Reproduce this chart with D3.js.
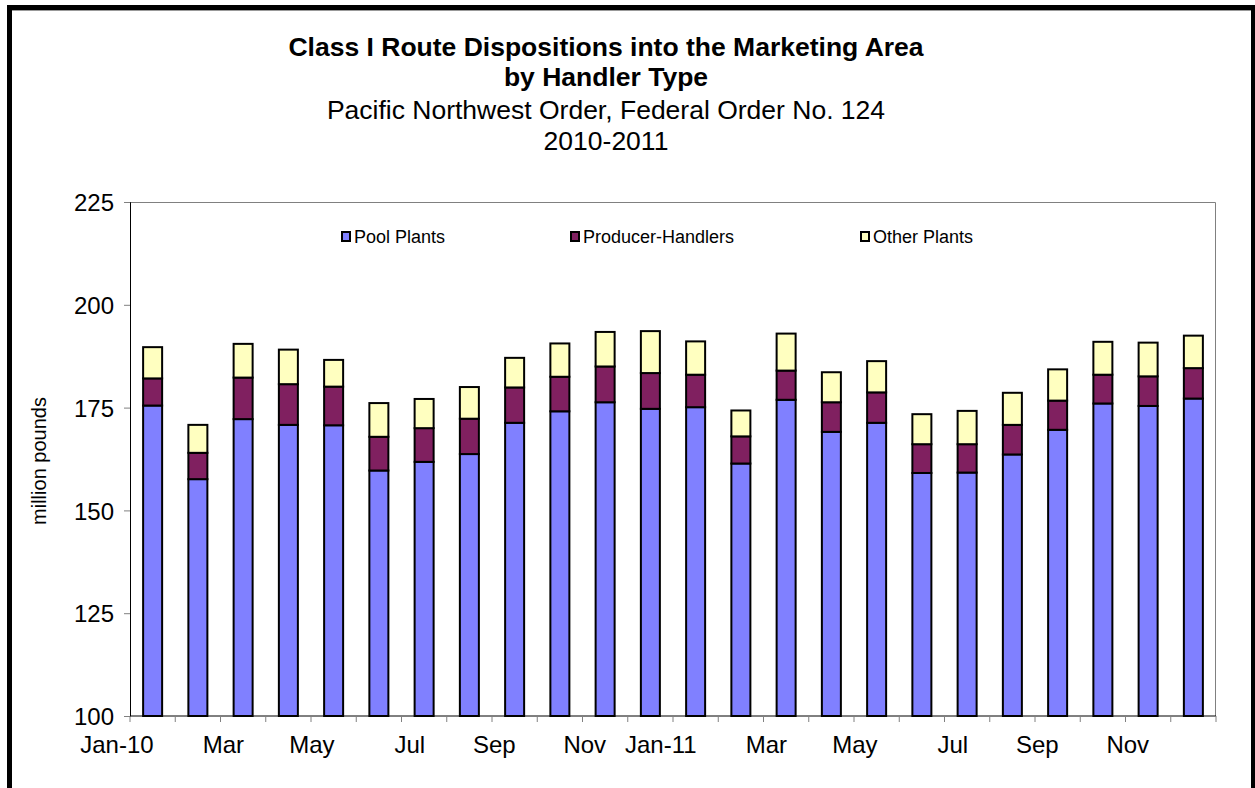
<!DOCTYPE html>
<html>
<head>
<meta charset="utf-8">
<script src="https://cdn.jsdelivr.net/npm/d3@7"></script>
<style>
  body { margin: 0; background: #fff; }
  text { font-family: "Liberation Sans", Arial, sans-serif; fill: #000; }
</style>
</head>
<body>
<script>
// month labels for the 24 bars
var months = ["Jan-10","Feb-10","Mar-10","Apr-10","May-10","Jun-10","Jul-10","Aug-10","Sep-10","Oct-10","Nov-10","Dec-10",
              "Jan-11","Feb-11","Mar-11","Apr-11","May-11","Jun-11","Jul-11","Aug-11","Sep-11","Oct-11","Nov-11","Dec-11"];
var tickLabels = ["Jan-10","Mar","May","Jul","Sep","Nov","Jan-11","Mar","May","Jul","Sep","Nov"];

// million pounds
var poolPlants = [175.5,157.6,172.2,170.8,170.7,159.7,161.8,163.7,171.3,174.1,176.3,174.7,
                  175.1,161.4,176.9,169.1,171.3,159.1,159.2,163.6,169.6,176.0,175.4,177.2];
var producerHandlers = [6.6,6.4,10.1,9.9,9.4,8.2,8.2,8.6,8.6,8.4,8.7,8.7,
                        7.9,6.6,7.1,7.2,7.4,7.0,6.9,7.2,7.1,7.0,7.2,7.4];
var otherPlants = [7.6,6.8,8.2,8.4,6.5,8.2,7.1,7.7,7.2,8.1,8.4,10.2,
                   8.1,6.3,9.0,7.3,7.6,7.3,8.1,7.8,7.6,8.0,8.2,7.9];

var seriesNames = ["Pool Plants","Producer-Handlers","Other Plants"];
var seriesKeys = ["pool","producer","other"];
var colors = ["#8080ff","#802060","#ffffc0"];
var yTicks = [100,125,150,175,200,225];

var W = 1255, H = 788;
var margin = {top: 202, right: W - 1216, bottom: H - 716, left: 130},
    width = W - margin.left - margin.right,
    height = H - margin.top - margin.bottom;

var rows = months.map(function(m, i) {
  return {month: m, pool: poolPlants[i], producer: producerHandlers[i], other: otherPlants[i]};
});

var svg = d3.select("body").append("svg")
    .attr("width", W)
    .attr("height", H);

// outer frame (bottom edge runs off the page)
svg.append("rect")
    .attr("x", 9.5).attr("y", 7.5)
    .attr("width", 1244).attr("height", 820)
    .attr("fill", "none")
    .attr("stroke", "#000")
    .attr("stroke-width", 5);
svg.append("path")
    .attr("d", "M12,10.5H1251")
    .attr("stroke", "#999")
    .attr("stroke-width", 1);

// titles
var titles = [
  {t: "Class I Route Dispositions into the Marketing Area", y: 56, bold: true},
  {t: "by Handler Type", y: 86, bold: true},
  {t: "Pacific Northwest Order, Federal Order No. 124", y: 119, bold: false},
  {t: "2010-2011", y: 150, bold: false}
];
svg.selectAll("text.title")
    .data(titles)
    .enter().append("text")
    .attr("class", "title")
    .attr("x", 606)
    .attr("y", function(d) { return d.y; })
    .attr("text-anchor", "middle")
    .style("font-size", "26.5px")
    .style("font-weight", function(d) { return d.bold ? "bold" : "normal"; })
    .text(function(d) { return d.t; });

var x = d3.scaleBand()
    .domain(months)
    .range([0, width])
    .paddingInner(0.58)
    .paddingOuter(0.29);

var y = d3.scaleLinear()
    .domain([100, 225])
    .range([height, 0]);

var canvas = svg.append("g")
    .attr("transform", "translate(" + margin.left + "," + margin.top + ")");

// plot border, top and right
canvas.append("path")
    .attr("d", "M0,0.5H" + (width - 0.5) + "V" + height)
    .attr("fill", "none")
    .attr("stroke", "#808080")
    .attr("stroke-width", 1);

var stack = d3.stack().keys(seriesKeys);
var layers = stack(rows.map(function(r) {
  return {month: r.month, pool: r.pool - 100, producer: r.producer, other: r.other};
}));

canvas.selectAll("g.layer")
    .data(layers)
    .enter().append("g")
    .attr("class", "layer")
    .attr("fill", function(d, i) { return colors[i]; })
    .selectAll("rect")
    .data(function(d) { return d; })
    .enter().append("rect")
    .attr("x", function(d) { return x(d.data.month); })
    .attr("width", x.bandwidth())
    .attr("y", function(d) { return y(d[1] + 100); })
    .attr("height", function(d) { return y(d[0] + 100) - y(d[1] + 100); })
    .attr("stroke", "#000")
    .attr("stroke-width", 2);

// y axis
var yAxis = d3.axisLeft(y).tickValues(yTicks).tickSize(6).tickPadding(10);
var gy = canvas.append("g").call(yAxis);
gy.select(".domain").attr("stroke", "#000");
gy.selectAll(".tick line").attr("stroke", "#808080");
gy.selectAll(".tick text")
    .style("font-size", "24px")
    .style("font-family", "Liberation Sans, Arial, sans-serif")
    .attr("dy", "0.36em");

// x axis: ticks on the category edges
var edges = months.map(function(m) { return x(m) - x.step() * x.paddingInner() / 2; });
edges.push(width);
var gx = canvas.append("g").attr("transform", "translate(0," + height + ")");
gx.append("line")
    .attr("x1", 0).attr("x2", width)
    .attr("stroke", "#000");
gx.selectAll("line.tick")
    .data(edges)
    .enter().append("line")
    .attr("class", "tick")
    .attr("x1", function(d) { return d; })
    .attr("x2", function(d) { return d; })
    .attr("y1", 0).attr("y2", 6)
    .attr("stroke", "#808080");

// month labels, right-aligned on every other bar
gx.selectAll("text")
    .data(tickLabels)
    .enter().append("text")
    .attr("x", function(d, i) { return x(months[i * 2]) + x.bandwidth() / 2 + 1; })
    .attr("y", 37)
    .attr("text-anchor", "end")
    .style("font-size", "24px")
    .text(function(d) { return d; });

// y axis title
svg.append("text")
    .attr("transform", "translate(46,461) rotate(-90)")
    .attr("text-anchor", "middle")
    .style("font-size", "20px")
    .text("million pounds");

// legend
var legendX = [342, 571, 861];
var legend = svg.selectAll("g.legend")
    .data(seriesNames)
    .enter().append("g")
    .attr("class", "legend")
    .attr("transform", function(d, i) { return "translate(" + legendX[i] + ",232)"; });
legend.append("rect")
    .attr("width", 8).attr("height", 9)
    .attr("fill", function(d, i) { return colors[i]; })
    .attr("stroke", "#000")
    .attr("stroke-width", 2);
legend.append("text")
    .attr("x", 12)
    .attr("y", 10.5)
    .style("font-size", "18px")
    .text(function(d) { return d; });
</script>
</body>
</html>
